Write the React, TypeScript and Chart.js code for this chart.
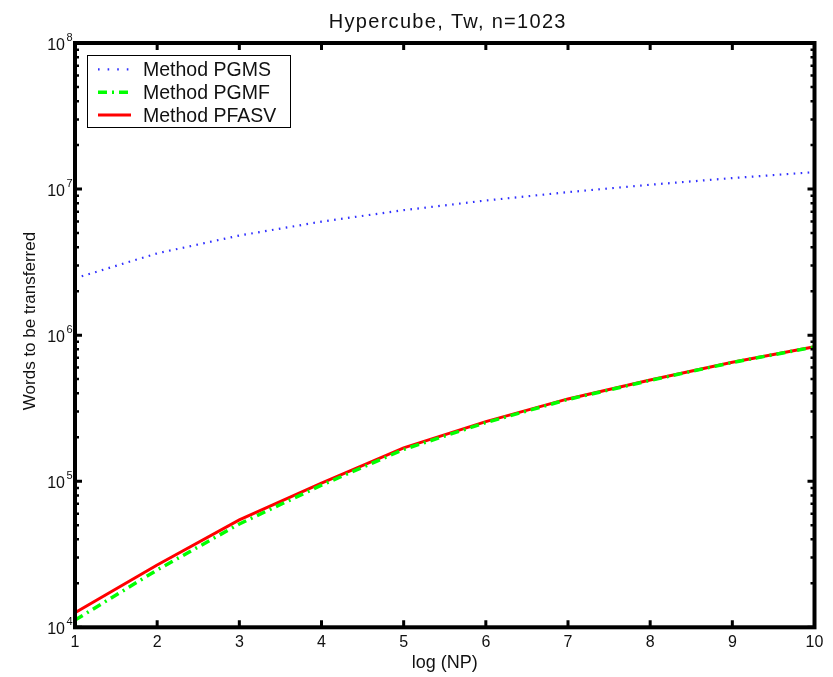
import React, { useEffect, useRef } from "react";
import { Chart, registerables } from "chart.js";

Chart.register(...registerables);

// ---- data ----
const logNP = [1, 2, 3, 4, 5, 6, 7, 8, 9, 10];
const pgms = [2.45e6, 3.63e6, 4.81e6, 5.99e6, 7.17e6, 8.35e6, 9.53e6, 1.071e7, 1.189e7, 1.307e7];
const pgmf = [1.12e4, 2.47e4, 5.1e4, 9.4e4, 1.65e5, 2.52e5, 3.63e5, 4.9e5, 6.5e5, 8.3e5];
const pfasv = [1.26e4, 2.67e4, 5.43e4, 9.7e4, 1.69e5, 2.56e5, 3.66e5, 4.93e5, 6.53e5, 8.34e5];

const xTicks = [1, 2, 3, 4, 5, 6, 7, 8, 9, 10];
const yExponents = [4, 5, 6, 7, 8];
const minorMultipliers = [2, 3, 4, 5, 6, 7, 8, 9];

const titleText = "Hypercube, Tw, n=1023";
const xLabelText = "log (NP)";
const yLabelText = "Words to be transferred";
const seriesNames = ["Method PGMS", "Method PGMF", "Method PFASV"];
const seriesColors = ["#3030ff", "#00ff00", "#ff0000"];
const seriesWidths = [2.2, 3.5, 3];
const seriesDashes: number[][] = [[1.6, 5.4], [9, 5, 2, 5], []];

const FONT = "'Liberation Sans', Arial, Helvetica, sans-serif";

const decorPlugin = {
  id: "decor",
  beforeDraw(chart: any) {
    const ctx = chart.ctx;
    ctx.save();
    ctx.fillStyle = "#ffffff";
    ctx.fillRect(0, 0, chart.width, chart.height);
    ctx.restore();
  },
  afterDatasetsDraw(chart: any) {
    const ctx: CanvasRenderingContext2D = chart.ctx;
    const a = chart.chartArea;
    const xs = chart.scales.x;
    const ys = chart.scales.y;
    ctx.save();

    // ticks
    ctx.strokeStyle = "#000";
    ctx.lineCap = "butt";
    ctx.lineWidth = 3;
    const majorLen = 7;
    const minorLen = 4;
    ctx.beginPath();
    for (const t of xTicks) {
      const px = xs.getPixelForValue(t);
      ctx.moveTo(px, a.bottom);
      ctx.lineTo(px, a.bottom - majorLen);
      ctx.moveTo(px, a.top);
      ctx.lineTo(px, a.top + majorLen);
    }
    for (const e of yExponents) {
      const py = ys.getPixelForValue(Math.pow(10, e));
      ctx.moveTo(a.left, py);
      ctx.lineTo(a.left + majorLen, py);
      ctx.moveTo(a.right, py);
      ctx.lineTo(a.right - majorLen, py);
    }
    ctx.stroke();
    ctx.lineWidth = 2.5;
    ctx.beginPath();
    for (const e of yExponents.slice(0, -1)) {
      for (const m of minorMultipliers) {
        const py = ys.getPixelForValue(m * Math.pow(10, e));
        ctx.moveTo(a.left, py);
        ctx.lineTo(a.left + minorLen, py);
        ctx.moveTo(a.right, py);
        ctx.lineTo(a.right - minorLen, py);
      }
    }
    ctx.stroke();

    // box
    ctx.lineWidth = 4;
    ctx.strokeRect(a.left, a.top, a.right - a.left, a.bottom - a.top);

    // x tick labels
    ctx.fillStyle = "#111";
    ctx.font = `16px ${FONT}`;
    ctx.textAlign = "center";
    ctx.textBaseline = "alphabetic";
    for (const t of xTicks) {
      const px = xs.getPixelForValue(t);
      ctx.fillText(String(t), px, a.bottom + 20);
    }

    // y tick labels 10^e
    for (const e of yExponents) {
      const py = ys.getPixelForValue(Math.pow(10, e));
      ctx.font = `16px ${FONT}`;
      ctx.textAlign = "right";
      ctx.fillText("10", 65, py + 6.5);
      ctx.font = `11px ${FONT}`;
      ctx.textAlign = "left";
      ctx.fillText(String(e), 66.5, py - 2);
    }

    // title
    ctx.font = `20px ${FONT}`;
    ctx.textAlign = "center";
    (ctx as any).letterSpacing = "1.3px";
    ctx.fillText(titleText, (a.left + a.right) / 2 + 3, 27.5);
    (ctx as any).letterSpacing = "0px";

    // x label
    ctx.font = `18px ${FONT}`;
    ctx.fillText(xLabelText, (a.left + a.right) / 2, a.bottom + 41);

    // y label
    ctx.save();
    ctx.translate(35, 321);
    ctx.rotate(-Math.PI / 2);
    ctx.font = `17px ${FONT}`;
    ctx.textAlign = "center";
    ctx.fillText(yLabelText, 0, 0);
    ctx.restore();

    // legend
    const lx0 = 87, ly0 = 55, lx1 = 291, ly1 = 128;
    ctx.fillStyle = "#fff";
    ctx.fillRect(lx0, ly0, lx1 - lx0, ly1 - ly0);
    ctx.lineWidth = 1;
    ctx.strokeStyle = "#000";
    ctx.strokeRect(lx0 + 0.5, ly0 + 0.5, lx1 - lx0 - 1, ly1 - ly0 - 1);
    for (let i = 0; i < seriesNames.length; i++) {
      const cy = 69.3 + i * 22.9;
      ctx.save();
      ctx.strokeStyle = seriesColors[i];
      ctx.lineWidth = seriesWidths[i];
      ctx.setLineDash(i === 0 ? [1.6, 8] : seriesDashes[i]);
      ctx.beginPath();
      ctx.moveTo(98, cy);
      ctx.lineTo(131, cy);
      ctx.stroke();
      ctx.restore();
      ctx.fillStyle = "#111";
      ctx.font = `19.5px ${FONT}`;
      ctx.textAlign = "left";
      ctx.fillText(seriesNames[i], 143, cy + 7);
    }

    ctx.restore();
  },
};

export default function App() {
  const canvasRef = useRef<HTMLCanvasElement | null>(null);

  useEffect(() => {
    const canvas = canvasRef.current;
    if (!canvas) return;
    const series = [pgms, pgmf, pfasv];
    const chart = new Chart(canvas, {
      type: "line",
      data: {
        datasets: series.map((vals, i) => ({
          label: seriesNames[i],
          data: logNP.map((x, j) => ({ x, y: vals[j] })),
          borderColor: seriesColors[i],
          borderWidth: seriesWidths[i],
          borderDash: seriesDashes[i],
          pointRadius: 0,
          fill: false,
          tension: 0,
        })),
      },
      options: {
        responsive: false,
        animation: false,
        devicePixelRatio: 1,
        layout: { padding: { left: 75, top: 43, right: 18.5, bottom: 49.7 } },
        scales: {
          x: { type: "linear", min: 1, max: 10, display: false },
          y: { type: "logarithmic", min: 1e4, max: 1e8, display: false },
        },
        plugins: {
          legend: { display: false },
          title: { display: false },
          tooltip: { enabled: false },
        },
      },
      plugins: [decorPlugin],
    });
    return () => chart.destroy();
  }, []);

  return (
    <div style={{ position: "absolute", left: 0, top: 0, width: 833, height: 677 }}>
      <canvas ref={canvasRef} width={833} height={677} style={{ display: "block" }} />
    </div>
  );
}
